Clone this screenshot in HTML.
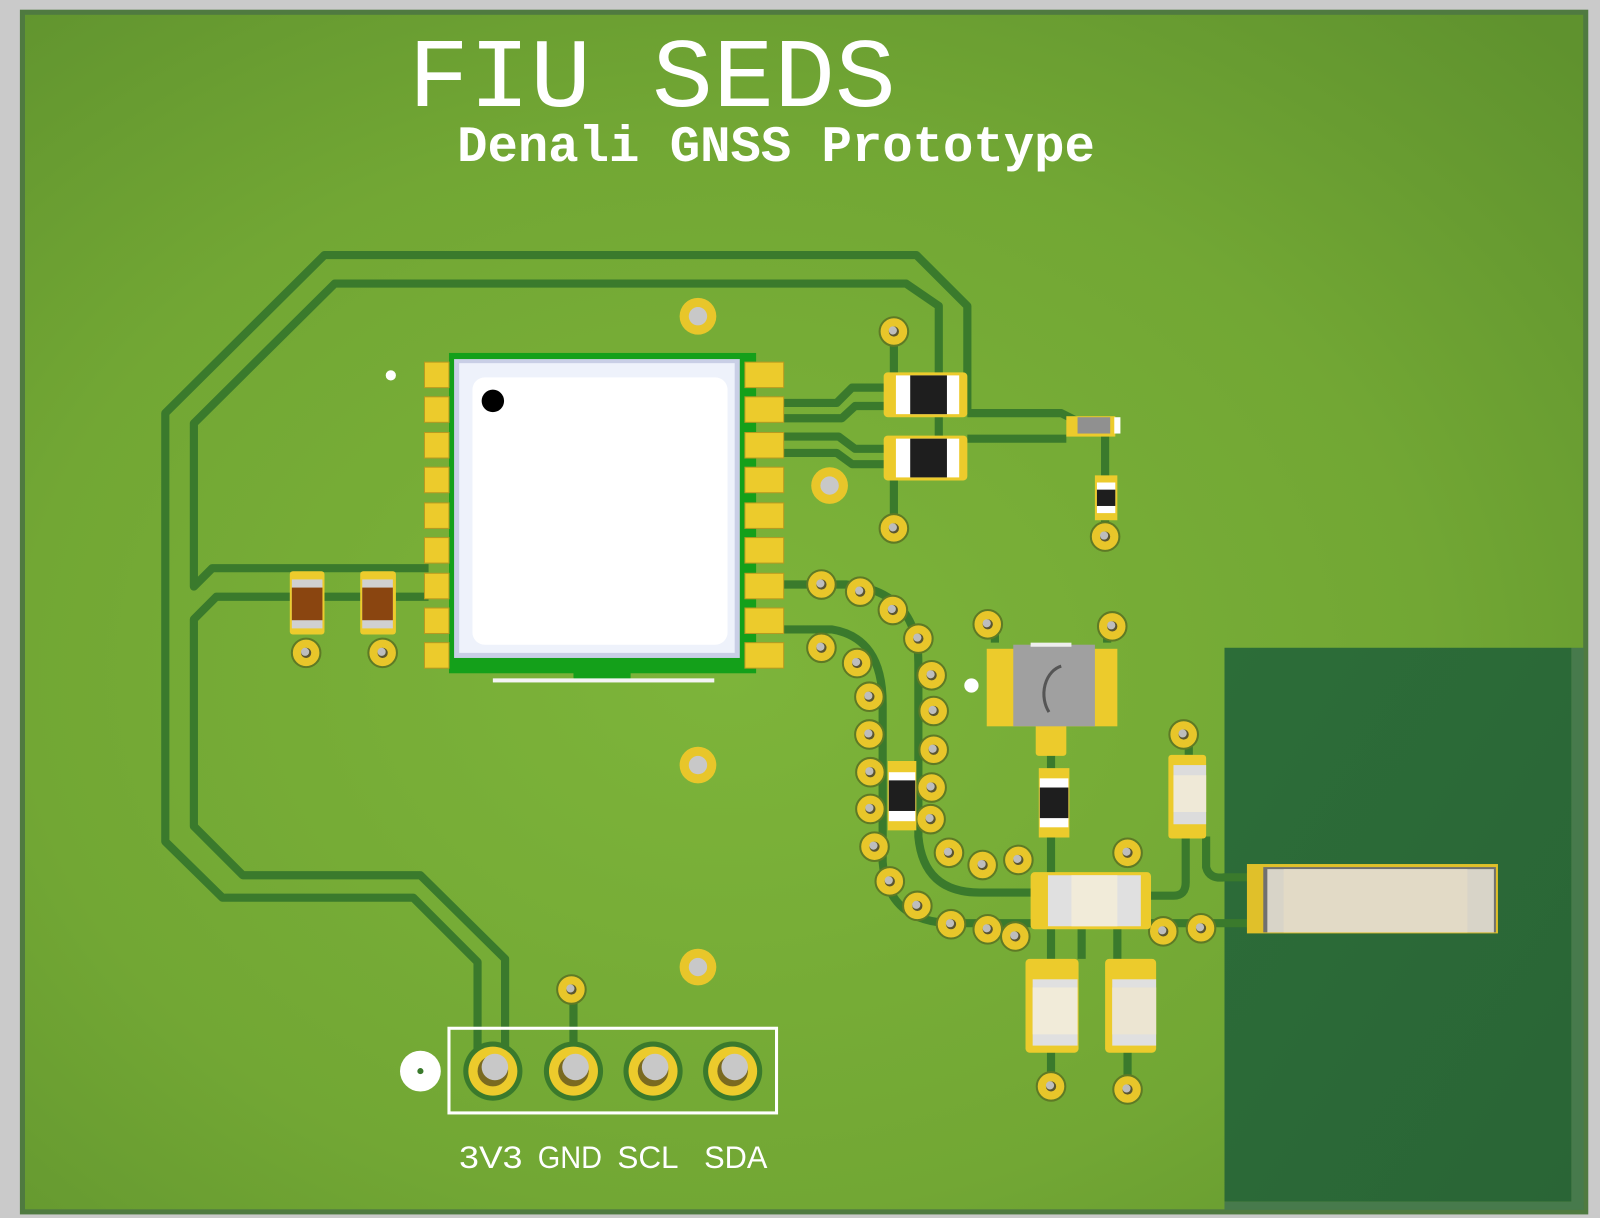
<!DOCTYPE html>
<html><head><meta charset="utf-8"><style>
html,body{margin:0;padding:0;background:#cacaca;}
svg{display:block;}
</style></head><body>
<svg width="1600" height="1218" viewBox="0 0 1568 1194" preserveAspectRatio="none" xmlns="http://www.w3.org/2000/svg">
<defs>
<radialGradient id="bg" cx="0.45" cy="0.55" r="0.75">
<stop offset="0" stop-color="#7db43a"/><stop offset="0.6" stop-color="#72a734"/><stop offset="1" stop-color="#5f922e"/>
</radialGradient>
<linearGradient id="dk" x1="0" y1="0" x2="1" y2="1"><stop offset="0" stop-color="#2c6d38"/><stop offset="1" stop-color="#2a6536"/></linearGradient>
<g id="via"><circle r="14" fill="#e8c62a" stroke="#5e7a25" stroke-width="2"/><circle r="5" fill="#5a5530"/><circle r="4" cx="-1" cy="-1" fill="#bdbdbd"/></g>
<g id="bvia"><circle r="18" fill="#e8c62a"/><circle r="9" fill="#c8c8c8"/></g>
</defs>
<rect width="1568" height="1194" fill="#cacaca"/>
<rect x="22" y="12" width="1532" height="1176" fill="url(#bg)" stroke="#4f7a40" stroke-width="5"/>
<rect x="1200" y="635" width="340" height="543" fill="url(#dk)"/>
<rect x="1540" y="635" width="12" height="551" fill="#477a4c"/>
<rect x="1200" y="1178" width="352" height="8" fill="#477a4c"/>

<g fill="none" stroke="#3a7a2c" stroke-width="8" stroke-linejoin="round">
<path d="M948,405 V300 L898,250 H318 L162,405 V825 L218,880 H405 L468,943 V1040"/>
<path d="M920,445 V300 L888,278 H328 L190,415 V575 L208,557 H420"/>
<path d="M420,585 H212 L190,607 V810 L238,858 H412 L495,940 V1040"/>
<path d="M948,405 H1040 L1060,415"/>
<path d="M948,430 H1045"/>
<path d="M1083,425 V520"/>
<path d="M768,395 H820 L835,380 H870"/>
<path d="M768,410 H825 L838,398 H870"/>
<path d="M768,428 H822 L838,440 H870"/>
<path d="M768,444 H820 L835,455 H870"/>
<path d="M876,330 V375 M876,460 V515"/>
<path d="M768,573 H830 Q900,580 900,650 V820 Q905,875 960,875 H1015"/>
<path d="M768,617 H815 Q865,625 865,690 V845 Q870,905 935,905 H1015"/>
<path d="M1030,712 V940 M1060,910 V940 M1095,910 V940"/>
<path d="M1125,878 H1150 Q1162,878 1162,865 V820 M1165,740 V720"/>
<path d="M1182,820 V850 Q1185,862 1200,860 H1225"/>
<path d="M1128,905 H1225"/>
<path d="M975,630 V615 M1085,630 V615"/>
<path d="M562,1040 V970"/>
<path d="M1030,1030 V1065 M1105,1030 V1065"/>
</g>

<!-- title -->
<text x="400" y="104" font-family="Liberation Mono, monospace" font-size="96" fill="#fff" textLength="478" lengthAdjust="spacingAndGlyphs">FIU SEDS</text>
<text x="448" y="158" font-family="Liberation Mono, monospace" font-weight="bold" font-size="50" fill="#fff" textLength="625" lengthAdjust="spacingAndGlyphs">Denali GNSS Prototype</text>

<!-- vias -->
<use href="#bvia" x="684" y="310"/><use href="#bvia" x="813" y="476"/><use href="#bvia" x="684" y="750"/><use href="#bvia" x="684" y="948"/>
<g>
<use href="#via" x="876" y="325"/><use href="#via" x="876" y="518"/><use href="#via" x="1083" y="526"/><use href="#via" x="560" y="970"/>
<use href="#via" x="968" y="612"/><use href="#via" x="1090" y="614"/><use href="#via" x="1160" y="720"/><use href="#via" x="1105" y="836"/>
<use href="#via" x="1140" y="913"/><use href="#via" x="1177" y="910"/><use href="#via" x="1030" y="1065"/><use href="#via" x="1105" y="1068"/>
<use href="#via" x="300" y="640"/><use href="#via" x="375" y="640"/>
<use href="#via" x="805" y="573"/><use href="#via" x="843" y="580"/><use href="#via" x="875" y="598"/><use href="#via" x="900" y="626"/>
<use href="#via" x="913" y="662"/><use href="#via" x="915" y="697"/><use href="#via" x="915" y="735"/><use href="#via" x="913" y="772"/>
<use href="#via" x="912" y="803"/><use href="#via" x="930" y="836"/><use href="#via" x="963" y="848"/><use href="#via" x="998" y="843"/>
<use href="#via" x="805" y="635"/><use href="#via" x="840" y="650"/><use href="#via" x="852" y="683"/><use href="#via" x="852" y="720"/>
<use href="#via" x="853" y="757"/><use href="#via" x="853" y="793"/><use href="#via" x="857" y="830"/><use href="#via" x="872" y="864"/>
<use href="#via" x="899" y="888"/><use href="#via" x="932" y="906"/><use href="#via" x="968" y="911"/><use href="#via" x="995" y="918"/>
</g>

<!-- module -->
<rect x="440" y="346" width="301" height="314" fill="#14a01a"/>
<rect x="562" y="655" width="56" height="13" rx="4" fill="#14a01a"/>
<rect x="483" y="665" width="217" height="4" fill="#f4f4f4"/>
<rect x="445" y="352" width="280" height="293" fill="#c9cfe6"/>
<rect x="450" y="356" width="270" height="284" fill="#eef2fb"/>
<rect x="463" y="370" width="250" height="262" rx="12" fill="#ffffff"/>
<circle cx="483" cy="393" r="11" fill="#000"/>
<g fill="#eccb2c" stroke="#b89a20" stroke-width="1">
<rect x="416" y="355" width="24" height="25"/><rect x="416" y="389" width="24" height="25"/><rect x="416" y="424" width="24" height="25"/>
<rect x="416" y="458" width="24" height="25"/><rect x="416" y="493" width="24" height="25"/><rect x="416" y="527" width="24" height="25"/>
<rect x="416" y="562" width="24" height="25"/><rect x="416" y="596" width="24" height="25"/><rect x="416" y="630" width="24" height="25"/>
<rect x="730" y="355" width="38" height="25"/><rect x="730" y="389" width="38" height="25"/><rect x="730" y="424" width="38" height="25"/>
<rect x="730" y="458" width="38" height="25"/><rect x="730" y="493" width="38" height="25"/><rect x="730" y="527" width="38" height="25"/>
<rect x="730" y="562" width="38" height="25"/><rect x="730" y="596" width="38" height="25"/><rect x="730" y="630" width="38" height="25"/>
</g>
<circle cx="383" cy="368" r="5" fill="#fff"/>

<!-- top resistors -->
<g>
<rect x="866" y="365" width="82" height="44" rx="4" fill="#eccb2c"/><rect x="878" y="368" width="62" height="38" fill="#fff"/><rect x="892" y="368" width="36" height="38" fill="#1e1e1e"/>
<rect x="866" y="427" width="82" height="44" rx="4" fill="#eccb2c"/><rect x="878" y="430" width="62" height="38" fill="#fff"/><rect x="892" y="430" width="36" height="38" fill="#1e1e1e"/>
<rect x="1045" y="408" width="48" height="20" fill="#eccb2c"/><rect x="1056" y="409" width="32" height="16" fill="#909090"/><rect x="1092" y="409" width="6" height="16" fill="#fff"/>
<rect x="1073" y="466" width="22" height="44" fill="#eccb2c"/><rect x="1075" y="473" width="18" height="30" fill="#fff"/><rect x="1075" y="480" width="18" height="16" fill="#1e1e1e"/>
</g>

<!-- left caps -->
<rect x="284" y="560" width="34" height="62" rx="3" fill="#eccb2c"/><rect x="286" y="568" width="30" height="48" fill="#d0d0d0"/><rect x="286" y="576" width="30" height="32" fill="#8a4510"/>
<rect x="353" y="560" width="35" height="62" rx="3" fill="#eccb2c"/><rect x="355" y="568" width="30" height="48" fill="#d0d0d0"/><rect x="355" y="576" width="30" height="32" fill="#8a4510"/>

<!-- vertical black resistors -->
<rect x="870" y="746" width="28" height="68" fill="#eccb2c"/><rect x="871" y="757" width="26" height="48" fill="#fff"/><rect x="871" y="765" width="26" height="30" fill="#1e1e1e"/>
<rect x="1018" y="753" width="30" height="68" fill="#eccb2c"/><rect x="1019" y="763" width="28" height="48" fill="#fff"/><rect x="1019" y="772" width="28" height="30" fill="#1e1e1e"/>

<!-- button -->
<rect x="967" y="636" width="128" height="76" fill="#eccb2c"/>
<rect x="1015" y="705" width="30" height="36" rx="3" fill="#eccb2c"/>
<rect x="993" y="632" width="80" height="80" fill="#a0a0a0"/>
<rect x="1010" y="630" width="40" height="4" fill="#eee"/>
<path d="M1040,653 A22,28 0 0 0 1028,698" fill="none" stroke="#555" stroke-width="3"/>
<circle cx="952" cy="672" r="7" fill="#fff"/>

<!-- caps cream -->
<rect x="1145" y="740" width="37" height="82" rx="3" fill="#eccb2c"/><rect x="1150" y="750" width="32" height="58" fill="#dcdcdc"/><rect x="1150" y="760" width="32" height="36" fill="#efe9d7"/>
<rect x="1010" y="855" width="118" height="56" rx="4" fill="#eccb2c"/><rect x="1027" y="858" width="91" height="50" fill="#e0e0e0"/><rect x="1050" y="858" width="45" height="50" fill="#f1ebd9"/>
<rect x="1005" y="940" width="52" height="92" rx="4" fill="#eccb2c"/><rect x="1012" y="960" width="44" height="65" fill="#e0e0e0"/><rect x="1012" y="968" width="44" height="46" fill="#f1ebd9"/>
<rect x="1083" y="940" width="50" height="92" rx="4" fill="#eccb2c"/><rect x="1090" y="960" width="43" height="65" fill="#e0e0e0"/><rect x="1090" y="968" width="43" height="46" fill="#ece5d2"/>

<!-- antenna -->
<rect x="1222" y="847" width="246" height="68" fill="#e0c02a"/>
<rect x="1238" y="850" width="228" height="64" fill="#707070"/>
<rect x="1242" y="852" width="222" height="62" fill="#d8d4c8"/>
<rect x="1258" y="852" width="180" height="62" fill="#e2dac6"/>

<!-- header -->
<rect x="440" y="1008" width="321" height="83" fill="none" stroke="#fff" stroke-width="3"/>
<circle cx="412" cy="1050" r="20" fill="#fff"/><circle cx="412" cy="1050" r="3" fill="#3a7a2c"/>
<g>
<circle cx="483" cy="1050" r="29" fill="#3a7a2c"/><circle cx="483" cy="1050" r="24" fill="#eccb2c"/><circle cx="483" cy="1050" r="15" fill="#7a6a20"/><circle cx="485" cy="1046" r="13" fill="#c8c8c8"/>
<circle cx="562" cy="1050" r="29" fill="#3a7a2c"/><circle cx="562" cy="1050" r="24" fill="#eccb2c"/><circle cx="562" cy="1050" r="15" fill="#7a6a20"/><circle cx="564" cy="1046" r="13" fill="#c8c8c8"/>
<circle cx="640" cy="1050" r="29" fill="#3a7a2c"/><circle cx="640" cy="1050" r="24" fill="#eccb2c"/><circle cx="640" cy="1050" r="15" fill="#7a6a20"/><circle cx="642" cy="1046" r="13" fill="#c8c8c8"/>
<circle cx="718" cy="1050" r="29" fill="#3a7a2c"/><circle cx="718" cy="1050" r="24" fill="#eccb2c"/><circle cx="718" cy="1050" r="15" fill="#7a6a20"/><circle cx="720" cy="1046" r="13" fill="#c8c8c8"/>
</g>
<g font-family="Liberation Sans, sans-serif" font-size="31" fill="#fff">
<text x="450" y="1145" textLength="62" lengthAdjust="spacingAndGlyphs">3V3</text>
<text x="527" y="1145" textLength="63" lengthAdjust="spacingAndGlyphs">GND</text>
<text x="605" y="1145" textLength="60" lengthAdjust="spacingAndGlyphs">SCL</text>
<text x="690" y="1145" textLength="62" lengthAdjust="spacingAndGlyphs">SDA</text>
</g>
</svg>
</body></html>
